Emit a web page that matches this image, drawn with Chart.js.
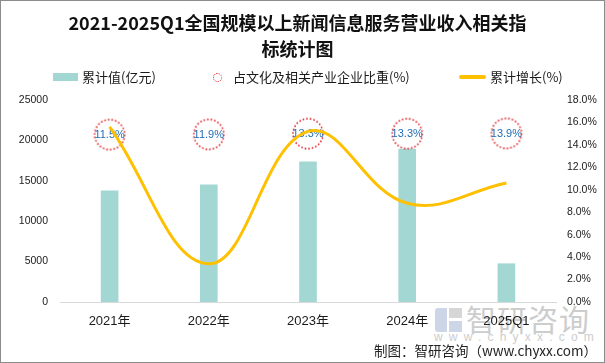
<!DOCTYPE html>
<html>
<head>
<meta charset="utf-8">
<script src="https://cdn.jsdelivr.net/npm/chart.js@4.4.1/dist/chart.umd.min.js"></script>
<style>
  html, body { margin: 0; padding: 0; background: #fff; }
  #marco { position: relative; width: 605px; height: 363px; overflow: hidden; font-family: "Noto Sans CJK SC", sans-serif; color: #1a1a1a; }
  #borde { position: absolute; left: 0; top: 0; width: 605px; height: 363px; box-sizing: border-box; border: 1px solid #8c8c8c; pointer-events: none; }
  #grafico { position: absolute; left: 0; top: 0; }
  .titulo { position: absolute; left: 0; top: 9px; width: 595px; text-align: center; font-size: 18px; font-weight: bold; line-height: 26px; color: #111; }
  .ley { position: absolute; font-size: 13px; line-height: 16px; top: 69px; white-space: nowrap; }
  .muestra { position: absolute; }
  .agua { position: absolute; color: #cdcdcd; white-space: nowrap; }
  .pie { position: absolute; right: 8px; top: 341px; font-size: 13.5px; line-height: 18px; white-space: nowrap; color: #222; }
</style>
</head>
<body>
<div id="marco">
  <!-- marca de agua, queda debajo del canvas -->
  <div class="agua" style="left:435px; top:308px; width:12px; height:24px; background:#ccd6e6; border-radius:3px 0 0 3px;"></div>
  <div class="agua" style="left:449px; top:308px; width:13px; height:10px; background:#d6d6d6;"></div>
  <div class="agua" style="left:449px; top:321px; width:13px; height:11px; background:#ccd6e6;"></div>
  <div class="agua" style="left:466px; top:299px; font-size:30px; line-height:38px; letter-spacing:1px;">智研咨询</div>
  <div class="agua" style="left:434px; top:329px; font-size:12px; line-height:16px; letter-spacing:6.2px; font-family:'Liberation Sans', sans-serif;">www.chyxx.com</div>

  <canvas id="grafico" width="605" height="363"></canvas>

  <div class="titulo">2021-2025Q1全国规模以上新闻信息服务营业收入相关指<br>标统计图</div>

  <div class="muestra" style="left:53px; top:73px; width:25px; height:8px; background:#a3d7d3;"></div>
  <div class="ley" style="left:82px;">累计值(亿元)</div>
  <div class="muestra" style="left:213px; top:73px; width:7px; height:7px; border:1.5px dotted #e0262b; border-radius:50%;"></div>
  <div class="ley" style="left:233px;">占文化及相关产业企业比重(%)</div>
  <div class="muestra" style="left:459px; top:75px; width:27px; height:4px; background:#ffc000; border-radius:2px;"></div>
  <div class="ley" style="left:490px;">累计增长(%)</div>

  <div class="pie">制图：智研咨询（www.chyxx.com）</div>
  <div id="borde"></div>
</div>
<script>
const categorias = ['2021年', '2022年', '2023年', '2024年', '2025Q1'];
const valoresAcumulados = [13760, 14500, 17340, 18930, 4740];
const proporciones = [11.5, 11.9, 13.3, 13.3, 13.9];
const crecimientos = [15.6, 3.4, 15.2, 8.8, 10.6];

const fuenteTicks = { family: '"Liberation Sans", "Noto Sans CJK SC", sans-serif', size: 10.5 };

function crearCirculo(radio) {
    const c = document.createElement('canvas');
    const lado = radio * 2 + 4;
    c.width = lado;
    c.height = lado;
    const ctx = c.getContext('2d');
    ctx.strokeStyle = '#e0262b';
    ctx.lineWidth = 1.6;
    ctx.setLineDash([1.6, 2]);
    ctx.beginPath();
    ctx.arc(lado / 2, lado / 2, radio, 0, Math.PI * 2);
    ctx.stroke();
    return c;
}

// etiquetas dentro de los circulos, antes de pintar la linea amarilla
const etiquetasProporcion = {
    id: 'etiquetasProporcion',
    afterDatasetDraw(chart, args) {
        if (args.index !== 1) return;
        const ctx = chart.ctx;
        ctx.save();
        ctx.font = '11px "Liberation Sans", sans-serif';
        ctx.fillStyle = '#1f6db5';
        ctx.textAlign = 'center';
        ctx.textBaseline = 'middle';
        args.meta.data.forEach(function (punto, i) {
            ctx.fillText(proporciones[i].toFixed(1) + '%', punto.x, punto.y + 0.5);
        });
        ctx.restore();
    }
};

const ctx = document.getElementById('grafico');

const grafico = new Chart(ctx, {
    type: 'bar',
    data: {
        labels: categorias,
        datasets: [{
            label: '累计值(亿元)',
            data: valoresAcumulados,
            backgroundColor: '#a3d7d3',
            barThickness: 17,
            yAxisID: 'y',
            order: 3
        }, {
            type: 'line',
            label: '占文化及相关产业企业比重(%)',
            data: proporciones,
            showLine: false,
            pointStyle: crearCirculo(15),
            pointRadius: 15,
            yAxisID: 'yProp',
            order: 2
        }, {
            type: 'line',
            label: '累计增长(%)',
            data: crecimientos,
            borderColor: '#ffc000',
            borderWidth: 3,
            tension: 0.4,
            pointRadius: 0,
            fill: false,
            yAxisID: 'y1',
            order: 1
        }]
    },
    options: {
        responsive: false,
        animation: false,
        layout: { padding: { left: 18, right: 0, top: 100, bottom: 31 } },
        plugins: {
            legend: { display: false },
            tooltip: { enabled: false }
        },
        scales: {
            x: {
                grid: { display: false, drawTicks: false },
                border: { color: '#d9d9d9' },
                ticks: { font: { family: fuenteTicks.family, size: 13 }, color: '#1a1a1a', padding: 12 },
                afterFit: function (s) { s.height = 30; }
            },
            y: {
                position: 'left',
                min: 0,
                max: 25000,
                grid: { display: false, drawTicks: false },
                border: { display: false },
                ticks: {
                    stepSize: 5000,
                    font: fuenteTicks,
                    color: '#1a1a1a',
                    padding: 12,
                    callback: function (v) { return String(v); }
                },
                afterFit: function (s) { s.width = 42; }
            },
            y1: {
                position: 'right',
                min: 0,
                max: 18,
                grid: { display: false, drawTicks: false },
                border: { display: false },
                ticks: {
                    stepSize: 2,
                    font: fuenteTicks,
                    color: '#1a1a1a',
                    padding: 11,
                    callback: function (v) { return v.toFixed(1) + '%'; }
                },
                afterFit: function (s) { s.width = 49; }
            },
            yProp: { display: false, min: -320, max: 80 }
        }
    },
    plugins: [etiquetasProporcion]
});
</script>
</body>
</html>
